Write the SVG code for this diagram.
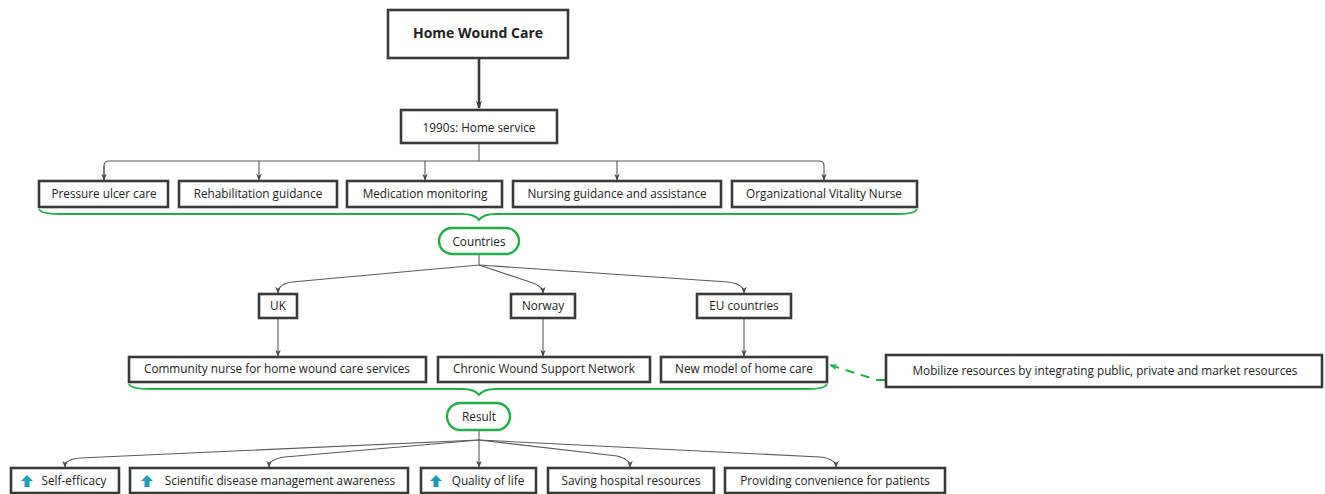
<svg xmlns="http://www.w3.org/2000/svg" width="1325" height="494" viewBox="0 0 1325 494">
<defs>
<style>
.box{fill:#fff;stroke:#3a3a3a;stroke-width:2.6}
.pill{fill:#fff;stroke:#1fae48;stroke-width:2.4}
.t{font-family:"Open Sans","Liberation Sans",sans-serif;font-size:11.75px;fill:#222;text-anchor:middle;dominant-baseline:central}
.tb{font-family:"Open Sans","Liberation Sans",sans-serif;font-size:14px;font-weight:bold;fill:#222;text-anchor:middle;dominant-baseline:central}
.c{fill:none;stroke:#5a5a5a;stroke-width:1.1}
.brace{fill:none;stroke:#1fae48;stroke-width:1.8}
.up{fill:#1b9db5}
</style>
<marker id="ar" viewBox="0 0 10 10" refX="9" refY="5" markerWidth="7" markerHeight="7" orient="auto" markerUnits="userSpaceOnUse">
<path d="M0,1 L10,5 L0,9 L3,5 Z" fill="#4a4a4a"/>
</marker>
<marker id="ag" viewBox="0 0 10 10" refX="9" refY="5" markerWidth="8" markerHeight="8" orient="auto" markerUnits="userSpaceOnUse">
<path d="M0,1 L10,5 L0,9 L3,5 Z" fill="#1fae48"/>
</marker>
<marker id="at" viewBox="0 0 10 10" refX="9" refY="5" markerWidth="8" markerHeight="8" orient="auto" markerUnits="userSpaceOnUse">
<path d="M0,1 L10,5 L0,9 L3,5 Z" fill="#3a3a3a"/>
</marker>
</defs>
<rect width="1325" height="494" fill="#fff"/>

<g id="connectors">
<path class="c" d="M479,58 L479,108" style="stroke:#3a3a3a;stroke-width:2.6" marker-end="url(#at)"/>
<path class="c" d="M479,143 L479,161"/>
<path class="c" d="M104,180 L104,166 Q104,161 109,161 L819,161 Q824,161 824,166 L824,180" marker-end="url(#ar)"/>
<path class="c" d="M259,161 L259,180" marker-end="url(#ar)"/>
<path class="c" d="M425,161 L425,180" marker-end="url(#ar)"/>
<path class="c" d="M617,161 L617,180" marker-end="url(#ar)"/>
<path class="c" d="M104,166 L104,180" marker-end="url(#ar)"/>
<path class="c" d="M479,253 L479,265"/>
<path class="c" d="M479,265 L292,282 Q278,284 278,293" marker-end="url(#ar)"/>
<path class="c" d="M479,265 L530,282 Q543,286 543,293" marker-end="url(#ar)"/>
<path class="c" d="M479,265 L728,282 Q744,284 744,293" marker-end="url(#ar)"/>
<path class="c" d="M278,318 L278,356" marker-end="url(#ar)"/>
<path class="c" d="M543,318 L543,356" marker-end="url(#ar)"/>
<path class="c" d="M744,318 L744,356" marker-end="url(#ar)"/>
<path class="c" d="M479,430 L479,440"/>
<path class="c" d="M479,440 L80,458 Q65,459 65,467" marker-end="url(#ar)"/>
<path class="c" d="M479,440 L285,457 Q269,459 269,467" marker-end="url(#ar)"/>
<path class="c" d="M479,440 L479,467" marker-end="url(#ar)"/>
<path class="c" d="M479,440 L617,456 Q630,459 630,467" marker-end="url(#ar)"/>
<path class="c" d="M479,440 L820,457 Q836,459 836,467" marker-end="url(#ar)"/>
<path d="M885,380 L877,380 L830,365" fill="none" stroke="#1fae48" stroke-width="2" stroke-dasharray="9,7" marker-end="url(#ag)"/>
<path class="brace" d="M39,209 Q41,214 60,214 L462,214 Q475,214 479,220 Q483,214 496,214 L898,214 Q915,214 917,209"/>
<path class="brace" d="M129,384 Q131,389 150,389 L462,389 Q475,389 479,395 Q483,389 496,389 L808,389 Q825,389 827,384"/>
</g>

<g id="n-home"><rect class="box" x="388" y="10" width="180" height="48"/><text class="tb" x="478" y="32">Home Wound Care</text></g>
<g id="n-1990s"><rect class="box" x="401" y="110" width="156" height="33"/><text class="t" x="479" y="127">1990s: Home service</text></g>

<g id="n-pressure"><rect class="box" x="39" y="181" width="129" height="26"/><text class="t" x="104" y="193">Pressure ulcer care</text></g>
<g id="n-rehab"><rect class="box" x="179" y="181" width="158" height="26"/><text class="t" x="258" y="193">Rehabilitation guidance</text></g>
<g id="n-medication"><rect class="box" x="347" y="181" width="155" height="26"/><text class="t" x="425" y="193">Medication monitoring</text></g>
<g id="n-nursing"><rect class="box" x="513" y="181" width="208" height="26"/><text class="t" x="617" y="193">Nursing guidance and assistance</text></g>
<g id="n-org"><rect class="box" x="732" y="181" width="185" height="26"/><text class="t" x="824" y="193">Organizational Vitality Nurse</text></g>

<g id="n-countries"><rect class="pill" x="439" y="228" width="80" height="26" rx="13"/><text class="t" x="479" y="241">Countries</text></g>

<g id="n-uk"><rect class="box" x="259" y="294" width="38" height="24"/><text class="t" x="278" y="305">UK</text></g>
<g id="n-norway"><rect class="box" x="511" y="294" width="64" height="24"/><text class="t" x="543" y="305">Norway</text></g>
<g id="n-eu"><rect class="box" x="697" y="294" width="94" height="24"/><text class="t" x="744" y="305">EU countries</text></g>

<g id="n-community"><rect class="box" x="129" y="357" width="297" height="25"/><text class="t" x="277" y="368">Community nurse for home wound care services</text></g>
<g id="n-chronic"><rect class="box" x="438" y="357" width="212" height="25"/><text class="t" x="544" y="368">Chronic Wound Support Network</text></g>
<g id="n-newmodel"><rect class="box" x="661" y="357" width="166" height="25"/><text class="t" x="744" y="368">New model of home care</text></g>
<g id="n-mobilize"><rect class="box" x="886" y="355" width="436" height="32"/><text class="t" x="1105" y="370">Mobilize resources by integrating public, private and market resources</text></g>

<g id="n-result"><rect class="pill" x="447" y="403" width="63" height="27" rx="13.5"/><text class="t" x="479" y="416">Result</text></g>

<g id="n-self"><rect class="box" x="11" y="468" width="108" height="25"/><path class="up" d="M27,475 L33,481 L29.5,481 L29.5,487 L24.5,487 L24.5,481 L21,481 Z"/><text class="t" x="74" y="480">Self-efficacy</text></g>
<g id="n-scientific"><rect class="box" x="130" y="468" width="278" height="25"/><path class="up" d="M147,475 L153,481 L149.5,481 L149.5,487 L144.5,487 L144.5,481 L141,481 Z"/><text class="t" x="280" y="480">Scientific disease management awareness</text></g>
<g id="n-quality"><rect class="box" x="421" y="468" width="115" height="25"/><path class="up" d="M436,475 L442,481 L438.5,481 L438.5,487 L433.5,487 L433.5,481 L430,481 Z"/><text class="t" x="488" y="480">Quality of life</text></g>
<g id="n-saving"><rect class="box" x="548" y="468" width="166" height="25"/><text class="t" x="631" y="480">Saving hospital resources</text></g>
<g id="n-providing"><rect class="box" x="725" y="468" width="220" height="25"/><text class="t" x="835" y="480">Providing convenience for patients</text></g>
</svg>
